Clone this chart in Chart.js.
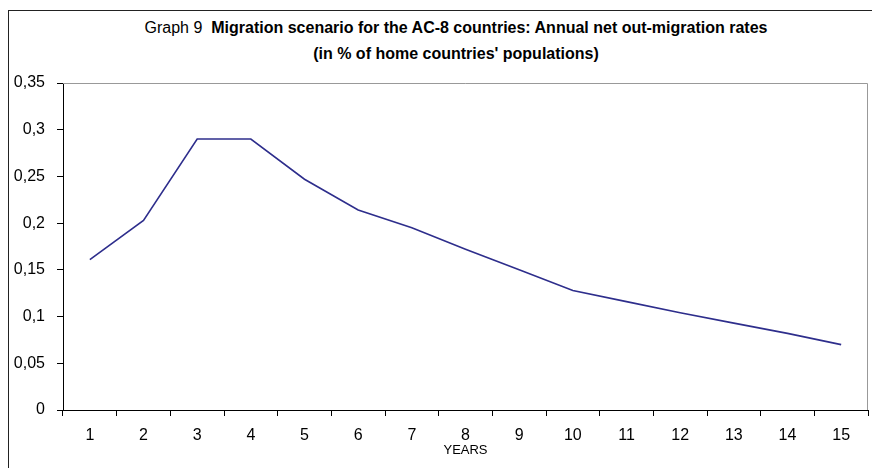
<!DOCTYPE html>
<html>
<head>
<meta charset="utf-8">
<script src="https://cdn.jsdelivr.net/npm/chart.js@4.4.1/dist/chart.umd.min.js"></script>
<style>
    html, body { margin: 0; padding: 0; background: #fff; overflow: hidden; }
    #wrap { position: relative; width: 872px; height: 468px; }
    #frame {
        position: absolute; left: 8px; top: 10px; width: 900px; height: 500px;
        border-left: 1px solid #222; border-top: 1px solid #222;
    }
    #titulo {
        position: absolute; left: 0; top: 15px; width: 912px; text-align: center;
        font-family: "Liberation Sans Narrow", "Arial Narrow", "Liberation Sans", Arial, sans-serif;
        font-size: 16px; line-height: 26px; color: #000;
    }
    #titulo b { font-weight: bold; }
    canvas { position: absolute; left: 0; top: 0; }
</style>
</head>
<body>
<div id="wrap">
    <div id="frame"></div>
    <div id="titulo">Graph 9 &nbsp;<b>Migration scenario for the AC-8 countries: Annual net out-migration rates</b><br><b>(in % of home countries' populations)</b></div>
    <canvas id="grafico" width="872" height="468"></canvas>
</div>
<script>
/* global Chart */
(function () {
    'use strict';

    // Dados
    var anos = ['1','2','3','4','5','6','7','8','9','10','11','12','13','14','15'];
    var taxas = [0.161, 0.203, 0.290, 0.290, 0.247, 0.214, 0.195, 0.172, 0.150, 0.128,
                 0.116, 0.104, 0.093, 0.082, 0.070];
    var yTickLabels = ['0', '0,05', '0,1', '0,15', '0,2', '0,25', '0,3', '0,35'];

    var FONTE = '"Liberation Sans Narrow", "Arial Narrow", "Liberation Sans", Arial, sans-serif';

    // borda cinza da área do gráfico (topo e direita)
    var bordaArea = {
        id: 'bordaArea',
        beforeDatasetsDraw: function (chart) {
            var a = chart.chartArea, ctx = chart.ctx;
            ctx.save();
            ctx.strokeStyle = '#999';
            ctx.lineWidth = 1;
            ctx.beginPath();
            ctx.moveTo(a.left, a.top + 0.5);
            ctx.lineTo(a.right - 0.5, a.top + 0.5);
            ctx.lineTo(a.right - 0.5, a.bottom);
            ctx.stroke();
            ctx.restore();
        }
    };

    new Chart(document.getElementById('grafico'), {
        type: 'line',
        data: {
            labels: anos,
            datasets: [{
                data: taxas,
                borderColor: '#2e2e8c',
                borderWidth: 1.6,
                pointRadius: 0,
                tension: 0,
                fill: false
            }]
        },
        options: {
            responsive: false,
            animation: false,
            layout: { padding: { left: 8, right: 4, top: 83, bottom: 0 } },
            plugins: {
                legend: { display: false },
                tooltip: { enabled: false }
            },
            scales: {
                x: {
                    offset: true,
                    grid: {
                        offset: true,
                        drawOnChartArea: false,
                        tickLength: 6,
                        tickColor: '#000'
                    },
                    border: { color: '#000', width: 1 },
                    ticks: {
                        color: '#000',
                        padding: 10,
                        maxRotation: 0,
                        autoSkip: false,
                        font: { family: FONTE, size: 16 }
                    },
                    title: {
                        display: true,
                        text: 'YEARS',
                        color: '#000',
                        font: { family: FONTE, size: 13 },
                        padding: { top: 0, bottom: 10 }
                    },
                    afterFit: function (s) { s.height = 58; }
                },
                y: {
                    min: 0,
                    max: 0.35,
                    grid: {
                        drawOnChartArea: false,
                        tickLength: 6,
                        tickColor: '#000'
                    },
                    border: { color: '#000', width: 1 },
                    ticks: {
                        stepSize: 0.05,
                        color: '#000',
                        padding: 12,
                        font: { family: FONTE, size: 16 },
                        callback: function (v, i) { return yTickLabels[i]; }
                    },
                    afterFit: function (s) { s.width = 55; }
                }
            }
        },
        plugins: [bordaArea]
    });
}());
</script>
</body>
</html>
